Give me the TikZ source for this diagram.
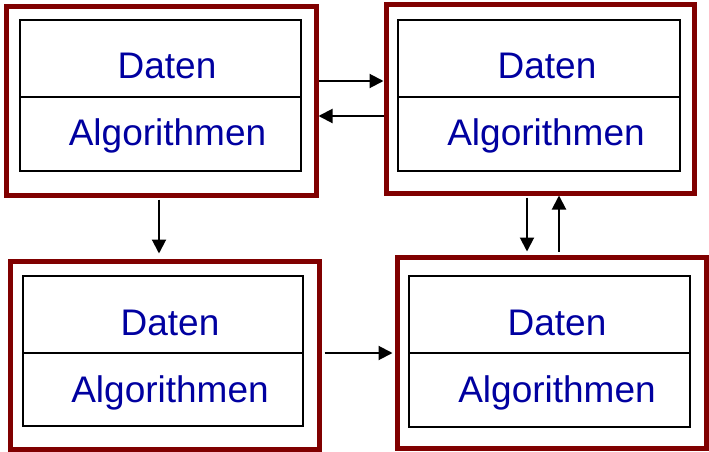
\documentclass[tikz,border=0pt]{standalone}
\usepackage{fontspec}
\setmainfont{Liberation Sans}
\usetikzlibrary{arrows.meta,calc}
\definecolor{frame}{RGB}{128,0,0}
\definecolor{textblue}{RGB}{0,0,160}
\tikzset{
  module/.style={draw=frame, line width=5pt, minimum width=#1, inner sep=0pt, outer sep=auto},
  part/.style={draw=black, line width=2.6pt, inner sep=0pt, outer sep=0pt},
  lbl/.style={text=textblue, font=\fontsize{37}{40}\selectfont, anchor=base, inner sep=0pt},
  arr/.style={line width=2pt, -{Triangle[length=14pt,width=14pt]}},
}
\begin{document}
\begin{tikzpicture}[x=1pt,y=-1pt]
\useasboundingbox (0,0) rectangle (709,452);

% outer frames
\node[module=309.5pt, minimum height=188.5pt] (o1) at (161.25,100.75) {};
\node[module=308pt,   minimum height=188pt]   (o2) at (540,99) {};
\node[module=309pt,   minimum height=188pt]   (o3) at (164.5,355) {};
\node[module=309pt,   minimum height=191pt]   (o4) at (551.5,352.5) {};

% inner data / algorithm compartments
\node[part, minimum width=281pt, minimum height=77pt] (d1) at (160.5,58.5) {};
\node[part, minimum width=281pt, minimum height=74pt] (a1) at (160.5,134) {};
\node[part, minimum width=282pt, minimum height=77pt] (d2) at (539,58.5) {};
\node[part, minimum width=282pt, minimum height=74pt] (a2) at (539,134) {};
\node[part, minimum width=280pt, minimum height=77pt] (d3) at (163,314.5) {};
\node[part, minimum width=280pt, minimum height=73pt] (a3) at (163,389.5) {};
\node[part, minimum width=281pt, minimum height=77pt] (d4) at (549.5,314.5) {};
\node[part, minimum width=281pt, minimum height=74pt] (a4) at (549.5,390) {};

% labels
\node[lbl] (t1d) at (167,78)  {Daten};
\node[lbl] (t1a) at (167.5,145) {Algorithmen};
\node[lbl] (t2d) at (547,78)  {Daten};
\node[lbl] (t2a) at (546,145) {Algorithmen};
\node[lbl] (t3d) at (170,335) {Daten};
\node[lbl] (t3a) at (170,402) {Algorithmen};
\node[lbl] (t4d) at (557,335) {Daten};
\node[lbl] (t4a) at (557,402) {Algorithmen};

% connectors
\draw[arr] (o1.east |- 0,81) -- (o2.west |- 0,81);
\draw[arr] (o2.west |- 0,116) -- (o1.east |- 0,116);
\draw[arr, shorten <=2pt, shorten >=5pt] (o1.south -| 159,0) -- (o3.north -| 159,0);
\draw[arr, shorten <=3pt, shorten >=2pt] (o3.east |- 0,353) -- (o4.west |- 0,353);
\draw[arr, shorten <=2pt, shorten >=3pt] (o2.south -| 527,0) -- (o4.north -| 527,0);
\draw[arr, shorten <=3pt] (o4.north -| 559,0) -- (o2.south -| 559,0);
\end{tikzpicture}
\end{document}
